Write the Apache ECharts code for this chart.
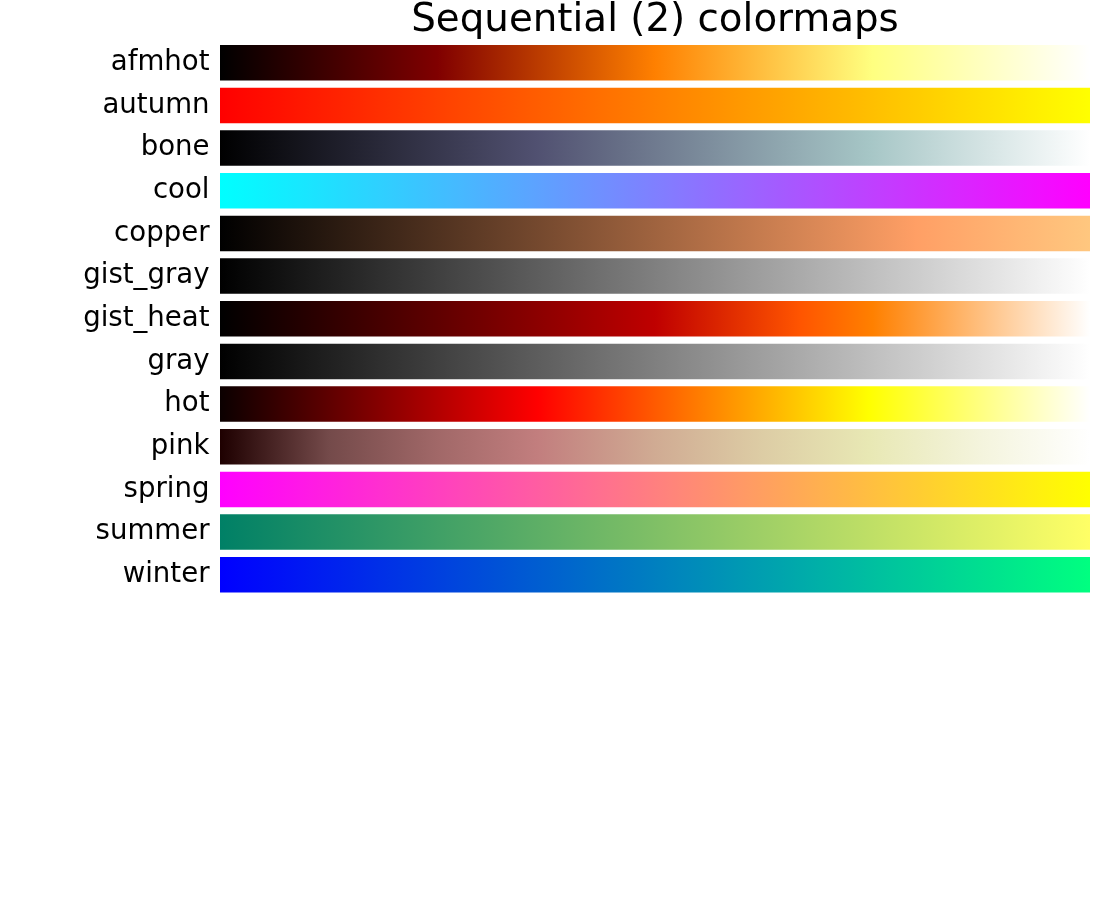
<!DOCTYPE html>
<html>
<head>
<meta charset="utf-8">
<title>Sequential (2) colormaps</title>
<script src="https://cdn.jsdelivr.net/npm/echarts@6/dist/echarts.min.js"></script>
<style>
  html, body { margin: 0; padding: 0; background: #fff; }
  #chart { width: 1100px; height: 900px; }
</style>
</head>
<body>
<div id="chart"></div>
<script>
// colormap names, top to bottom
var cmapNames = ['afmhot', 'autumn', 'bone', 'cool', 'copper', 'gist_gray', 'gist_heat',
                 'gray', 'hot', 'pink', 'spring', 'summer', 'winter'];

// each bar spans the whole 0..1 range
var barSpan = [1, 1, 1, 1, 1, 1, 1, 1, 1, 1, 1, 1, 1];

// colour stops [offset, colour] for every map
var afmhotStops = [[0, '#000000'], [0.25, '#800000'], [0.5, '#ff8000'], [0.75, '#ffff80'], [1, '#ffffff']];
var autumnStops = [[0, '#ff0000'], [1, '#ffff00']];
var boneStops = [[0, '#000000'], [0.365, '#515171'], [0.746, '#a6c6c6'], [1, '#ffffff']];
var coolStops = [[0, '#00ffff'], [1, '#ff00ff']];
var copperStops = [[0, '#000000'], [0.8, '#ff9f65'], [1, '#ffc77f']];
var gistGrayStops = [[0, '#000000'], [1, '#ffffff']];
var gistHeatStops = [[0, '#000000'], [0.5, '#bf0000'], [0.667, '#ff5500'], [0.75, '#ff8000'], [1, '#ffffff']];
var grayStops = [[0, '#000000'], [1, '#ffffff']];
var hotStops = [[0, '#0b0000'], [0.365, '#ff0000'], [0.746, '#ffff00'], [1, '#ffffff']];
var pinkStops = [[0, '#1e0000'], [0.125, '#744a4a'], [0.25, '#a16868'], [0.365, '#c27e7e'], [0.5, '#d0ab93'],
                 [0.625, '#ddcda5'], [0.746, '#e8e8b4'], [0.875, '#f4f4dd'], [1, '#ffffff']];
var springStops = [[0, '#ff00ff'], [1, '#ffff00']];
var summerStops = [[0, '#008066'], [1, '#ffff66']];
var winterStops = [[0, '#0000ff'], [1, '#00ff80']];

var allStops = [afmhotStops, autumnStops, boneStops, coolStops, copperStops, gistGrayStops, gistHeatStops,
                grayStops, hotStops, pinkStops, springStops, summerStops, winterStops];

function gradient(stops) {
    return {
        type: 'linear', x: 0, y: 0, x2: 1, y2: 0,
        colorStops: stops.map(function (s) { return { offset: s[0], color: s[1] }; })
    };
}

var chart = echarts.init(document.getElementById('chart'), null, { renderer: 'canvas' });

var option = {
    animation: false,
    backgroundColor: '#ffffff',
    title: {
        text: 'Sequential (2) colormaps',
        left: 655,
        textAlign: 'center',
        top: 1,
        padding: 0,
        textStyle: {
            fontFamily: 'DejaVu Sans',
            fontSize: 38.8,
            fontWeight: 'normal',
            color: '#000'
        }
    },
    grid: {
        left: 220,
        right: 10,
        top: 41.4,
        bottom: 303.9
    },
    xAxis: {
        type: 'value',
        min: 0,
        max: 1,
        show: false
    },
    yAxis: {
        type: 'category',
        data: cmapNames,
        inverse: true,
        axisLine: { show: false },
        axisTick: { show: false },
        splitLine: { show: false },
        axisLabel: {
            fontFamily: 'DejaVu Sans',
            fontSize: 27.6,
            color: '#000',
            margin: 10.5
        }
    },
    series: [{
        type: 'bar',
        barWidth: 35.5,
        data: barSpan.map(function (v, i) {
            return { value: v, itemStyle: { color: gradient(allStops[i]) } };
        })
    }]
};

chart.setOption(option);
</script>
</body>
</html>
